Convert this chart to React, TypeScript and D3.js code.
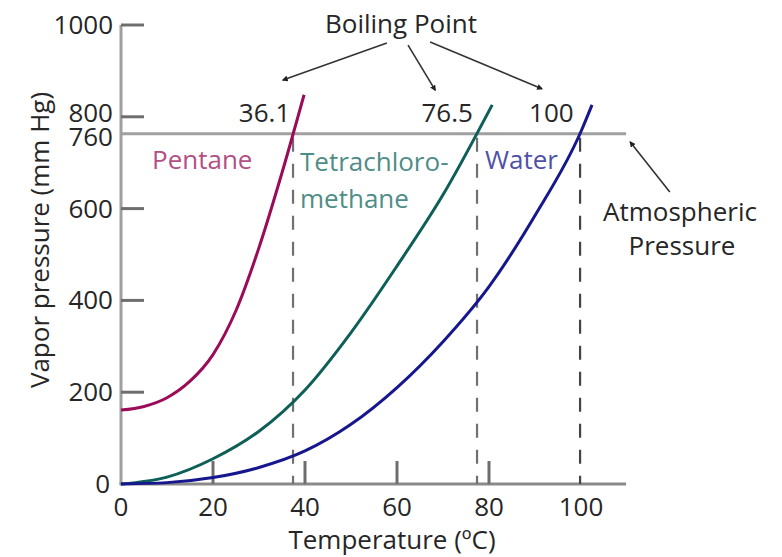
import React from "react";
import * as d3 from "d3";

// ---- data ----
const pentaneT = [0, 5, 10, 15, 20, 25, 30, 35, 39.8];
const pentaneP = [161, 169, 188, 224, 282, 378, 515, 678, 848];

const tetraT = [0, 10, 20, 30, 40, 50, 60, 70, 80.7];
const tetraP = [0, 15, 55, 115, 205, 330, 475, 630, 826];

const waterT = [0, 10, 20, 30, 40, 50, 60, 70, 80, 90, 100, 102.4];
const waterP = [0, 3, 14, 36, 72, 130, 210, 310, 430, 585, 768, 826];

const xTicks = [0, 20, 40, 60, 80, 100];
const yTicks = [0, 200, 400, 600, 800, 1000];
const atmPressure = 763;
const atmLabel = "760";

const boilingLabels = ["36.1", "76.5", "100"];
const boilingLineT = [37.4, 77.4, 99.8]; // where dashed lines sit in the picture
const boilingLabelRightT = [36.8, 76.5, 98.4];

const seriesNames = ["Pentane", "Tetrachloro-", "Water"];

// annotation arrows in data units [T0, P0, T1, P1]
const boilingArrows = [
  [57.8, 961, 35.2, 880],
  [62.4, 956, 68.3, 858],
  [67.2, 963, 91.5, 861],
];
const atmArrow = [119.3, 636, 110.7, 745];

export default function App() {
  const W = 782;
  const H = 557;
  const x = d3.scaleLinear().domain([0, 100]).range([121, 581]);
  const y = d3.scaleLinear().domain([0, 1000]).range([484, 25]);
  const xMax = 109.8;

  const line = d3
    .line<[number, number]>()
    .x((d) => x(d[0]))
    .y((d) => y(d[1]))
    .curve(d3.curveMonotoneX);

  const zip = (a: number[], b: number[]) => a.map((v, i) => [v, b[i]] as [number, number]);

  const font = "'Open Sans', sans-serif";
  const textColor = "#262626";
  const fs = 26;

  const yLabelOffset = (v: number) => (v === 800 ? 5 : 9);

  return (
    <svg
      width={W}
      height={H}
      style={{ position: "absolute", left: 0, top: 0, background: "#fff" }}
      fontFamily={font}
    >
      <defs>
        <marker
          id="ah"
          viewBox="0 0 10 10"
          refX="8"
          refY="5"
          markerWidth="6"
          markerHeight="6"
          orient="auto"
          markerUnits="userSpaceOnUse"
        >
          <path d="M0,0 L10,5 L0,10 z" fill="#222" />
        </marker>
      </defs>

      {/* axes */}
      <line x1={x(0)} x2={x(0)} y1={y(1000)} y2={y(0)} stroke="#a0a0a0" strokeWidth={3} />
      <line x1={x(0) - 1.5} x2={x(xMax)} y1={y(0)} y2={y(0)} stroke="#8a8a8a" strokeWidth={3} />

      {/* y ticks */}
      {yTicks.map((v) => (
        <g key={"yt" + v}>
          {v > 0 && (
            <line x1={x(0)} x2={x(0) + 23} y1={y(v)} y2={y(v)} stroke="#6e6e6e" strokeWidth={3} />
          )}
          <text
            x={v === 0 ? 110 : 113}
            y={y(v) + yLabelOffset(v)}
            textAnchor="end"
            fontSize={fs}
            fill={textColor}
          >
            {v}
          </text>
        </g>
      ))}
      <text x={113} y={y(atmPressure) + 12} textAnchor="end" fontSize={fs} fill={textColor}>
        {atmLabel}
      </text>

      {/* x ticks */}
      {xTicks.map((v) => (
        <g key={"xt" + v}>
          {v > 0 && v < 100 && (
            <line x1={x(v)} x2={x(v)} y1={y(0)} y2={y(0) - 23} stroke="#6e6e6e" strokeWidth={3} />
          )}
          <text x={x(v)} y={y(0) + 32} textAnchor="middle" fontSize={fs} fill={textColor}>
            {v}
          </text>
        </g>
      ))}

      {/* axis titles */}
      <text x={392} y={549} textAnchor="middle" fontSize={fs} fill={textColor}>
        Temperature (ºC)
      </text>
      <text
        transform={`translate(49,240) rotate(-90)`}
        textAnchor="middle"
        fontSize={fs}
        fill={textColor}
      >
        Vapor pressure (mm Hg)
      </text>

      {/* atmospheric pressure line */}
      <line
        x1={x(0)}
        x2={x(xMax)}
        y1={y(atmPressure)}
        y2={y(atmPressure)}
        stroke="#a0a0a0"
        strokeWidth={3}
      />

      {/* dashed boiling point lines */}
      {boilingLineT.map((t, i) => (
        <line
          key={"dl" + i}
          x1={x(t)}
          x2={x(t)}
          y1={y(atmPressure)}
          y2={y(0)}
          stroke={i === 2 ? "#444" : "#707070"}
          strokeWidth={2.2}
          strokeDasharray="14 12"
          strokeDashoffset={-4}
        />
      ))}

      {/* curves */}
      <path d={line(zip(pentaneT, pentaneP)) || ""} fill="none" stroke="#9a0b58" strokeWidth={3} />
      <path d={line(zip(tetraT, tetraP)) || ""} fill="none" stroke="#0e5f57" strokeWidth={3} />
      <path d={line(zip(waterT, waterP)) || ""} fill="none" stroke="#16168e" strokeWidth={3} />

      {/* series labels */}
      <text x={152} y={169} fontSize={fs} fill="#b24f86">
        {seriesNames[0]}
      </text>
      <text x={300} y={171} fontSize={fs} fill="#4f8d87">
        {seriesNames[1]}
        <tspan x={300} dy={37}>
          methane
        </tspan>
      </text>
      <text x={485} y={169} fontSize={fs} fill="#5050a8">
        {seriesNames[2]}
      </text>

      {/* boiling point labels */}
      {boilingLabels.map((s, i) => (
        <text
          key={"bl" + i}
          x={x(boilingLabelRightT[i])}
          y={122}
          textAnchor="end"
          fontSize={fs}
          fill={textColor}
        >
          {s}
        </text>
      ))}

      {/* annotations */}
      <text x={401} y={33} textAnchor="middle" fontSize={fs} fill={textColor}>
        Boiling Point
      </text>
      {boilingArrows.map((a, i) => (
        <line
          key={"ba" + i}
          x1={x(a[0])}
          y1={y(a[1])}
          x2={x(a[2])}
          y2={y(a[3])}
          stroke="#333"
          strokeWidth={1.6}
          markerEnd="url(#ah)"
        />
      ))}
      <line
        x1={x(atmArrow[0])}
        y1={y(atmArrow[1])}
        x2={x(atmArrow[2])}
        y2={y(atmArrow[3])}
        stroke="#333"
        strokeWidth={1.6}
        markerEnd="url(#ah)"
      />
      <text x={680} y={221} textAnchor="middle" fontSize={fs} fill={textColor}>
        Atmospheric
      </text>
      <text x={682} y={255} textAnchor="middle" fontSize={fs} fill={textColor}>
        Pressure
      </text>
    </svg>
  );
}
